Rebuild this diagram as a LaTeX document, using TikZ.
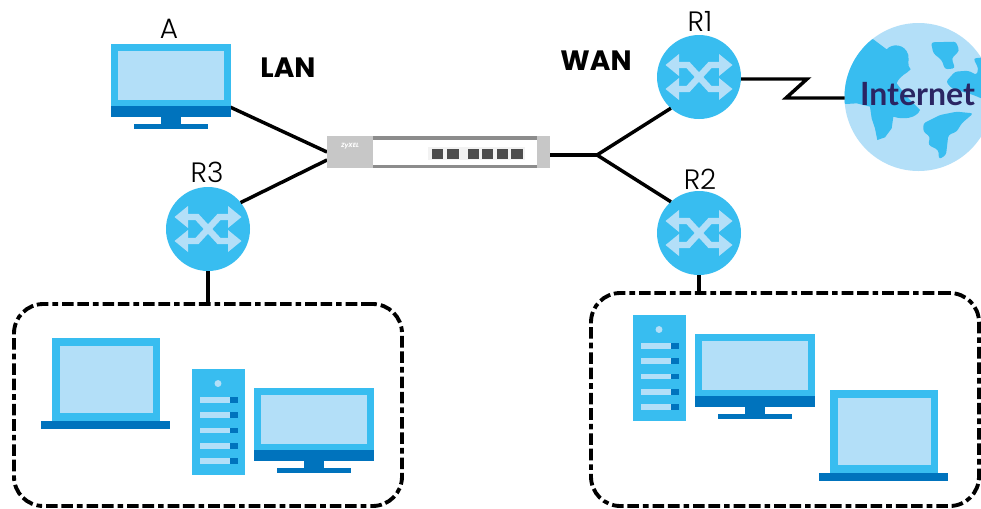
\documentclass[tikz,border=0pt]{standalone}
\usepackage{fontspec}
\setmainfont{Poppins}
\newfontfamily\lightfont{Poppins Light}
\newfontfamily\inetfont{Lato}
\definecolor{lb}{HTML}{B3DFF8}
\definecolor{mb}{HTML}{38BDF0}
\definecolor{db}{HTML}{0073BD}
\definecolor{navy}{HTML}{2A2563}
\tikzset{
  x=0.75pt,y=-0.75pt,
  every node/.append style={outer sep=0pt},
  wire/.style={draw=black,line width=2.6pt,miter limit=10},
  groupbox/.style={draw=black,line width=2.9pt,rounded corners=22pt,dash pattern=on 8.7pt off 2.8pt on 8.7pt off 3pt on 4.2pt off 3pt},
  lbl/.style={font=\lightfont\fontsize{21}{21}\selectfont,anchor=base,inner sep=0pt,text=black},
  zone/.style={font=\bfseries\fontsize{21}{21}\selectfont,anchor=base,inner sep=0pt,text=black},
  routernode/.style={circle,fill=mb,minimum size=63pt,inner sep=0pt},
  routerarrows/.pic={
    \draw[lb,line width=4.8pt,line join=miter] (-21,-12)--(-11,-12)--(11,12)--(21,12);
    \draw[lb,line width=4.8pt,line join=miter] (-21,12)--(-11,12)--(11,-12)--(21,-12);
    \fill[lb] (-33.5,-12)--(-20,-23)--(-20,-1)--cycle;
    \fill[lb] (33.5,-12)--(20,-23)--(20,-1)--cycle;
    \fill[lb] (-33.5,12)--(-20,23)--(-20,1)--cycle;
    \fill[lb] (33.5,12)--(20,23)--(20,1)--cycle;
  },
  monitor/.pic={
    \fill[mb] (0,0) rectangle (120,62);
    \fill[lb] (7,7) rectangle (113,56);
    \fill[db] (0,62) rectangle (120,73);
    \fill[db] (50,73) rectangle (70,80);
    \fill[db] (23,80) rectangle (97,85);
  },
  laptop/.pic={
    \fill[mb] (0,0) rectangle (108,83);
    \fill[lb] (8,8) rectangle (100.5,75);
    \fill[db] (-11,83) rectangle (118,91);
  },
  server/.pic={
    \fill[mb] (0,0) rectangle (52.5,106);
    \fill[lb] (26,14.5) circle (2.6pt);
    \foreach \yy in {28,43.3,58.6,74,89.2}{
      \fill[lb] (7.5,\yy) rectangle (37.5,\yy+5.8);
      \fill[db] (37.5,\yy) rectangle (45.5,\yy+5.8);
    }
  },
}
\begin{document}
\begin{tikzpicture}
\useasboundingbox (0,0) rectangle (981,508);
\fill[white] (0,0) rectangle (981,508);

% connector end points
\coordinate (Aport) at (230,107);
\coordinate (SWa) at (327,152);
\coordinate (SWb) at (327,160);
\coordinate (SWc) at (550,155);
\coordinate (J) at (597,155);
\coordinate (Z1) at (807,79);
\coordinate (Z2) at (786,98);

% group boxes
\node[groupbox,minimum width=291pt,minimum height=151.5pt,anchor=north west,inner sep=0pt] (boxL) at (14,304) {};
\node[groupbox,minimum width=291pt,minimum height=159.75pt,anchor=north west,inner sep=0pt] (boxR) at (591,293) {};

% routers
\node[routernode] (R3) at (208,229) {};
\node[routernode] (R1) at (699,77) {};
\node[routernode] (R2) at (699,233) {};

% globe
\begin{scope}
\clip (0,0) rectangle (981,508);
\node[circle,fill=lb,minimum size=111pt,inner sep=0pt] (globe) at (918.5,97) {};
\clip (918.5,97) circle (55.5pt);
\begin{scope}[shift={(640,0)},x=0.25pt,y=-0.25pt]
\fill[mb] (700,118) -- (740,148) .. controls (755,130) and (795,130) .. (805,165)
  .. controls (808,185) and (800,195) .. (812,208) .. controls (800,222) and (780,225) .. (770,250)
  -- (800,290) -- (840,330) .. controls (830,355) and (790,360) .. (760,350)
  -- (755,385) -- (735,412) -- (712,420) -- (705,385) -- (695,355) -- (690,320)
  -- (650,310) -- (618,312) -- (560,300) -- (560,100) -- cycle;
\fill[mb,rounded corners=2pt] (873,127) -- (948,125) -- (958,152) -- (935,175) -- (945,205) -- (915,208) -- (905,180) -- (880,160) -- cycle;
\fill[mb,rounded corners=2pt] (1000,175) -- (1060,170) -- (1060,310) -- (1000,285) -- (935,265) -- (918,245) -- (945,215) -- (985,212) -- (1010,225) -- (1015,205) -- cycle;
\fill[mb,rounded corners=2pt] (1000,340) -- (950,335) -- (900,345) -- (850,370) -- (850,395) -- (870,410) -- (865,435) -- (895,450) -- (897,478) -- (918,465) -- (925,405) -- (950,395) -- (965,370) -- cycle;
\end{scope}
\end{scope}
\node[font=\inetfont\bfseries\fontsize{24}{24}\selectfont,text=navy,anchor=base,inner sep=0pt] (inet) at (917.5,105) {Internet};

% connectors
\draw[wire] (Aport) -- (SWa);
\draw[wire] (R3.39) -- (SWb);
\draw[wire] (R3.south) -- (boxL.north -| R3.south);
\draw[wire] (R2.south) -- (boxR.north -| R2.south);
\draw[wire] (SWc) -- (J);
\draw[wire] (J) -- (R1.228);
\draw[wire] (J) -- (R2.132);
\draw[wire,line join=miter] (R1.east |- Z1) -- (Z1) -- (Z2) -- (globe.west |- Z2);

% router arrows
\pic at (R3) {routerarrows};
\pic at (R1) {routerarrows};
\pic at (R2) {routerarrows};

% switch
\node[fill=black!22,minimum width=167.25pt,minimum height=24pt,anchor=north west,inner sep=0pt] (sw) at (327,136) {};
\fill[white] (373,136) rectangle (537,168);
\fill[black!45] (373,136) rectangle (537,139.5);
\fill[black!45] (373,165) rectangle (537,168);
\fill[black!5] (428,147) rectangle (525,160);
\foreach \a/\b in {365/400,412/447,473/507,517/550,560/595,603/638}{
  \fill[black!70] ({310+\a/3},149) rectangle ({310+\b/3},158.5);
}
\node[font=\bfseries\itshape\fontsize{4.5}{4.5}\selectfont,text=white,inner sep=0pt] (zyxel) at (350,146) {ZyXEL};

% devices
\pic at (111,44) {monitor};
\pic at (52,338) {laptop};
\pic at (192,369) {server};
\pic at (253.5,388) {monitor};
\pic at (633,315) {server};
\pic at (695,334) {monitor};
\pic at (830,390) {laptop};

% labels
\node[lbl] (lA) at (169,38) {A};
\node[lbl] (lR3) at (207,182) {R3};
\node[lbl] (lR1) at (700,31) {R1};
\node[lbl] (lR2) at (700,189) {R2};
\node[zone] (lan) at (288,77) {LAN};
\node[zone] (wan) at (596,70) {WAN};
\end{tikzpicture}
\end{document}
